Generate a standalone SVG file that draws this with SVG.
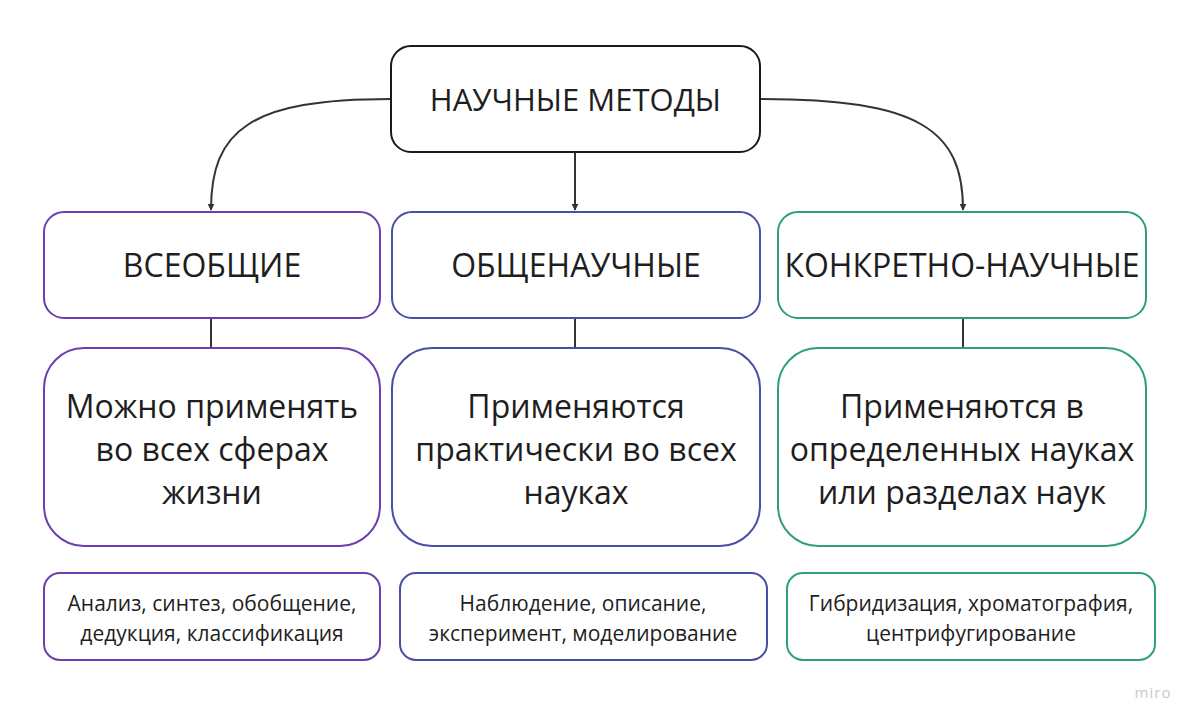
<svg xmlns="http://www.w3.org/2000/svg" width="1200" height="728" viewBox="0 0 1200 728">
<style>
text{font-family:"Open Sans","Noto Sans","Liberation Sans",sans-serif;fill:#1e1e1e;text-anchor:middle}
.box{fill:#fff;stroke-width:2}
.p{stroke:#6b3fb0}
.b{stroke:#4b4ea5}
.g{stroke:#2e9e82}
.k{stroke:#1a1a1a}
.h{font-size:31px}
.h2{font-size:32px}
.m{font-size:32px}
.s{font-size:21px}
.c{fill:none;stroke:#333;stroke-width:2}
</style>
<defs>
<marker id="ar" viewBox="0 0 10 10" refX="9" refY="5" markerWidth="7" markerHeight="7" markerUnits="userSpaceOnUse" orient="auto">
<path d="M0,0 L10,5 L0,10 z" fill="#333"/>
</marker>
</defs>
<rect width="1200" height="728" fill="#fff"/>
<g id="connectors">
<path class="c" d="M391,99 C250,99 211,130 211,210" marker-end="url(#ar)"/>
<path class="c" d="M575,153 L575,210" marker-end="url(#ar)"/>
<path class="c" d="M760,99 C920,99 963,130 963,210" marker-end="url(#ar)"/>
<line class="c" x1="211" y1="319" x2="211" y2="347"/>
<line class="c" x1="575" y1="319" x2="575" y2="347"/>
<line class="c" x1="963" y1="319" x2="963" y2="347"/>
</g>
<g id="root">
<rect class="box k" x="391" y="46" width="369" height="106" rx="20"/>
<text class="h" x="575.5" y="111">НАУЧНЫЕ МЕТОДЫ</text>
</g>
<g id="vseobshchie">
<rect class="box p" x="44" y="212" width="336" height="106" rx="20"/>
<text class="h2" x="212" y="277">ВСЕОБЩИЕ</text>
</g>
<g id="obshchenauchnye">
<rect class="box b" x="392" y="212" width="368" height="106" rx="20"/>
<text class="h2" x="576" y="277">ОБЩЕНАУЧНЫЕ</text>
</g>
<g id="konkretno">
<rect class="box g" x="778" y="212" width="368" height="106" rx="20"/>
<text class="h2" x="962" y="277">КОНКРЕТНО-НАУЧНЫЕ</text>
</g>
<g id="desc-vseobshchie">
<rect class="box p" x="44" y="348" width="336" height="198" rx="40"/>
<text class="m" x="212" y="418">Можно применять</text>
<text class="m" x="212" y="461">во всех сферах</text>
<text class="m" x="212" y="504">жизни</text>
</g>
<g id="desc-obshchenauchnye">
<rect class="box b" x="392" y="348" width="368" height="198" rx="40"/>
<text class="m" x="576" y="418">Применяются</text>
<text class="m" x="576" y="461">практически во всех</text>
<text class="m" x="576" y="504">науках</text>
</g>
<g id="desc-konkretno">
<rect class="box g" x="778" y="348" width="368" height="198" rx="40"/>
<text class="m" x="962" y="418">Применяются в</text>
<text class="m" x="962" y="461">определенных науках</text>
<text class="m" x="962" y="504">или разделах наук</text>
</g>
<g id="ex-vseobshchie">
<rect class="box p" x="44" y="573" width="336" height="87" rx="16"/>
<text class="s" x="212" y="611">Анализ, синтез, обобщение,</text>
<text class="s" x="212" y="641">дедукция, классификация</text>
</g>
<g id="ex-obshchenauchnye">
<rect class="box b" x="400" y="573" width="367" height="87" rx="16"/>
<text class="s" x="583" y="611">Наблюдение, описание,</text>
<text class="s" x="583" y="641">эксперимент, моделирование</text>
</g>
<g id="ex-konkretno">
<rect class="box g" x="787" y="573" width="368" height="87" rx="16"/>
<text class="s" x="971" y="611">Гибридизация, хроматография,</text>
<text class="s" x="971" y="641">центрифугирование</text>
</g>
<text x="1153" y="698" style="font-size:15px;fill:#c8c8c8;letter-spacing:1px">miro</text>
</svg>
